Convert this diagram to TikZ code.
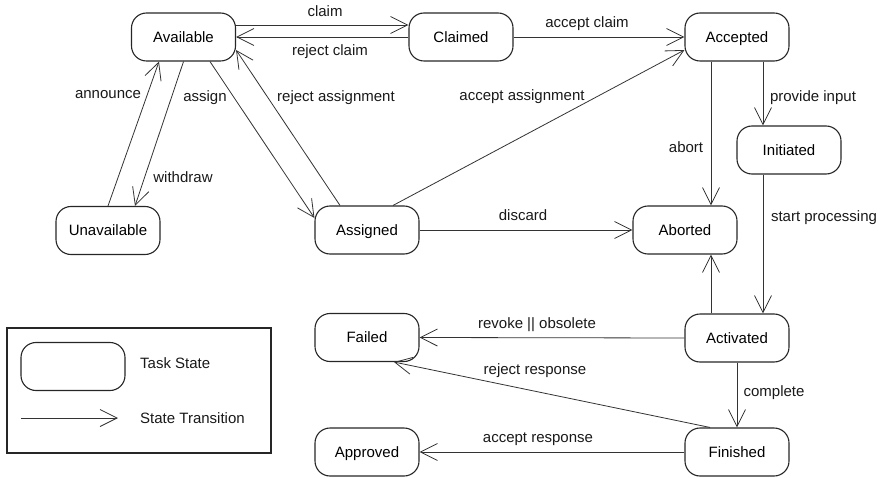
\documentclass[tikz,border=0pt]{standalone}
\usepackage{fontspec}
\setmainfont{Liberation Sans}
\usetikzlibrary{arrows.meta}
\begin{document}
\begin{tikzpicture}[x=1pt,y=-1pt,
  state/.style={draw=black!85, line width=1.1pt, rounded corners=15pt, minimum width=104pt, minimum height=48pt, inner sep=0pt, text height=10.8pt, text depth=0pt, font=\fontsize{15}{17}\selectfont},
  tr/.style={draw=black!80, line width=0.8pt, -{Straight Barb[length=17pt,width=17pt,line width=0.8pt]}},
  lbl/.style={inner sep=0pt, text height=10.8pt, text depth=0pt, font=\fontsize{15}{17}\selectfont, text=black!90},
  legendbox/.style={draw=black!85, line width=1.1pt}]
\useasboundingbox (0,0) rectangle (882,478);
% states
\node[state] (av) at (183.5,37) {Available};
\node[state] (cl) at (461,37) {Claimed};
\node[state] (ac) at (737,37) {Accepted};
\node[state] (in) at (789,150) {Initiated};
\node[state] (un) at (108,230.5) {Unavailable};
\node[state] (as) at (367,230) {Assigned};
\node[state] (ab) at (685,230) {Aborted};
\node[state] (fa) at (367,337.5) {Failed};
\node[state] (ap) at (367,452) {Approved};
\node[state] (act) at (737,338) {Activated};
\node[state] (fi) at (737,452) {Finished};
% transitions
\draw[tr] ([yshift=12pt]av.east) -- ([yshift=12pt]cl.west);
\draw[tr] (cl.west) -- (av.east);
\draw[tr] (cl.east) -- (ac.west);
\draw[tr] (un.north) -- ([xshift=-24.5pt]av.south);
\draw[tr] (av.south) -- ([xshift=27pt]un.north);
\draw[tr] ([xshift=26.5pt]av.south) -- ([yshift=12pt]as.west);
\draw[tr] ([xshift=-27pt]as.north) -- ([yshift=-13pt]av.east);
\draw[tr] ([xshift=26pt]as.north) -- ([yshift=-13pt]ac.west);
\draw[tr] (as.east) -- (ab.west);
\draw[tr] ([xshift=-26pt]ac.south) -- ([xshift=-26pt]ac.south |- ab.north);
\draw[tr] ([xshift=26pt]ac.south) -- ([xshift=26pt]ac.south |- in.north);
\draw[tr] (in.south) ++(-26pt,0) coordinate (ps) -- (ps |- act.north);
\draw[tr] ([xshift=-26pt]act.north) -- ([xshift=-26pt]act.north |- ab.south);
\draw[tr] (act.west) -- (fa.east);
\draw[tr] ([xshift=-27pt]fi.north) -- ([xshift=27pt]fa.south);
\draw[tr] (act.south) -- (fi.north);
\draw[tr] (fi.west) -- (ap.east);
% labels
\node[lbl] (lclaim) at (325,11) {claim};
\node[lbl] (lrclaim) at (330,50) {reject claim};
\node[lbl] (laclaim) at (587,22) {accept claim};
\node[lbl] (lann) at (108,93) {announce};
\node[lbl] (lassign) at (205,96) {assign};
\node[lbl] (lrassign) at (336,96) {reject assignment};
\node[lbl] (laassign) at (522,95) {accept assignment};
\node[lbl] (lwith) at (183,177) {withdraw};
\node[lbl] (labort) at (686,147) {abort};
\node[lbl] (lprov) at (813,96) {provide input};
\node[lbl] (lstart) at (824,216) {start processing};
\node[lbl] (ldisc) at (523,215) {discard};
\node[lbl] (lrevoke) at (537,323) {revoke || obsolete};
\node[lbl] (lrresp) at (535,369) {reject response};
\node[lbl] (lcomp) at (774,391) {complete};
\node[lbl] (laresp) at (538,437) {accept response};
% legend
\node[legendbox, minimum width=264pt, minimum height=125pt, inner sep=0pt] (legend) at (139,390.5) {};
\node[state] (lstate) at (73,366.5) {};
\node[lbl, anchor=west] (ltask) at (140,363) {Task State};
\coordinate (la) at (21,418);
\coordinate (lb) at (118,418);
\draw[tr] (la) -- (lb);
\node[lbl, anchor=west] (ltrans) at (140,418) {State Transition};
\end{tikzpicture}
\end{document}
